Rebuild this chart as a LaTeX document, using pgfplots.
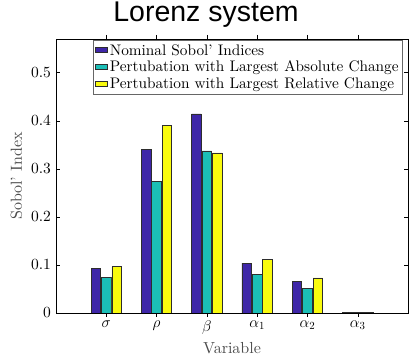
\RequirePackage{fix-cm}
\documentclass[border=0pt]{standalone}
\usepackage{pgfplots}
\pgfplotsset{compat=1.18}
\usepackage{fontspec}
\setmainfont{lmroman10-regular}[Extension=.otf, ItalicFont=lmroman10-italic, BoldFont=lmroman10-bold]
\newfontfamily\titlefont{Liberation Sans}
\definecolor{pblue}{RGB}{62,38,168}
\definecolor{pteal}{RGB}{27,190,182}
\definecolor{pyellow}{RGB}{249,251,14}
\definecolor{edge}{RGB}{45,45,45}
\begin{document}
\begin{tikzpicture}
\begin{axis}[
  name=ax,
  scale only axis,
  width=352pt, height=274pt,
  xmin=0, xmax=7, ymin=0, ymax=0.57,
  xtick={1,2,3,4,5,6},
  xticklabels={$\sigma$,$\rho$,$\beta$,$\alpha_1$,$\alpha_2$,$\alpha_3$},
  ytick={0,0.1,0.2,0.3,0.4,0.5},
  yticklabel style={/pgf/number format/fixed, /pgf/number format/assume math mode=true, xshift=-1.5pt},
  tick align=inside,
  major tick length=4pt,
  tick style={black, line width=0.4pt},
  axis line style={black, line width=0.6pt},
  ticklabel style={font=\fontsize{15.5}{17}\selectfont},
  xlabel={Variable}, ylabel={Sobol' Index},
  label style={font=\fontsize{16}{18}\selectfont, color=black!70},
  xlabel style={at={(axis description cs:0.5,0)}, anchor=base, yshift=-41pt, inner sep=0pt},
  ylabel style={at={(axis description cs:0,0.5)}, anchor=base, rotate=0, yshift=34pt, inner sep=0pt},
  title={\titlefont Lorenz system},
  title style={font=\fontsize{28.5}{30}\selectfont, at={(axis description cs:0.5,1)}, anchor=base, xshift=-26pt, yshift=11pt, inner sep=0pt},
  ybar, bar width=0.19,
  legend style={at={(0.986,0.997)}, anchor=north east, draw=black!60, line width=0.8pt,
    font=\fontsize{15.3}{17.5}\selectfont, inner sep=2pt, row sep=0.5pt,
    cells={anchor=west}},
  legend image code/.code={\draw[#1, line width=0.8pt] (0pt,-2.5pt) rectangle (12pt,2.5pt);},
]
\addplot[fill=pblue, draw=edge, line width=0.7pt, bar shift=-0.207] coordinates {(1,0.092) (2,0.340) (3,0.414) (4,0.104) (5,0.066) (6,0.0012)};
\addplot[fill=pteal, draw=edge, line width=0.7pt, bar shift=0] coordinates {(1,0.074) (2,0.274) (3,0.337) (4,0.081) (5,0.051) (6,0.0010)};
\addplot[fill=pyellow, draw=edge, line width=0.7pt, bar shift=0.207] coordinates {(1,0.096) (2,0.390) (3,0.333) (4,0.112) (5,0.073) (6,0.0012)};
\legend{Nominal Sobol' Indices, Pertubation with Largest Absolute Change, Pertubation with Largest Relative Change}
\end{axis}
\path ([xshift=-56pt,yshift=39pt]ax.north west) ([xshift=1pt,yshift=-44pt]ax.south east);
\end{tikzpicture}
\end{document}
